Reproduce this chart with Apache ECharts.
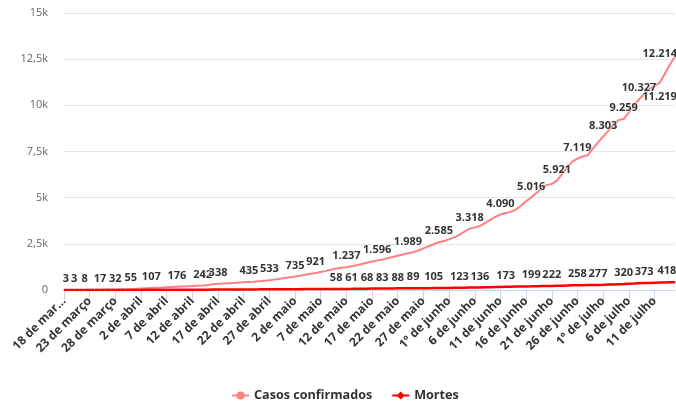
<!DOCTYPE html>
<html>
<head>
<meta charset="utf-8">
<script src="https://cdn.jsdelivr.net/npm/echarts@6/dist/echarts.min.js"></script>
<style>
  html, body { margin: 0; padding: 0; background: #fff; }
  #chart { width: 676px; height: 401px; }
</style>
</head>
<body>
<div id="chart"></div>
<script>
// eixo x: um ponto por dia, de 18 de março a 15 de julho
const months = [['março', 31], ['abril', 30], ['maio', 31], ['junho', 30], ['julho', 31]];
const categories = [];
let m = 0, d = 18;
for (let i = 0; i < 120; i++) {
  categories.push((d === 1 ? '1º' : d) + ' de ' + months[m][0]);
  d++;
  if (d > months[m][1]) { d = 1; m++; }
}

const casos = [
  3, 3, 3, 6, 8, 11, 14, 17, 22, 27,
  32, 39, 47, 55, 66, 80, 94, 107, 120, 133,
  148, 162, 176, 190, 203, 215, 229, 242, 270, 305,
  338, 352, 368, 385, 401, 418, 435, 452, 476, 505,
  533, 570, 612, 652, 694, 735, 770, 823, 875, 921,
  975, 1035, 1098, 1160, 1205, 1237, 1280, 1342, 1410, 1480,
  1545, 1596, 1650, 1715, 1790, 1860, 1925, 1989, 2045, 2140,
  2250, 2370, 2480, 2585, 2650, 2740, 2850, 2990, 3160, 3318,
  3390, 3470, 3620, 3800, 3960, 4090, 4170, 4230, 4350, 4560,
  4800, 5016, 5250, 5480, 5680, 5740, 5921, 6280, 6630, 6950,
  7119, 7230, 7290, 7650, 7990, 8303, 8620, 8950, 9200, 9259,
  9620, 9980, 10327, 10600, 10880, 11050, 11219, 11700, 12214, 12630
];

const mortes = [
  0, 0, 0, 0, 0, 0, 1, 1, 1, 2,
  2, 3, 3, 4, 5, 6, 7, 8, 9, 10,
  11, 12, 13, 14, 15, 16, 17, 18, 19, 21,
  22, 24, 25, 27, 28, 30, 31, 33, 34, 36,
  37, 39, 40, 42, 43, 45, 46, 48, 49, 51,
  53, 55, 56, 58, 59, 60, 61, 64, 66, 68,
  75, 80, 83, 85, 87, 88, 88, 89, 89, 92,
  96, 100, 105, 108, 112, 115, 119, 123, 127, 130,
  133, 136, 143, 150, 158, 165, 173, 178, 183, 188,
  194, 199, 205, 211, 216, 222, 229, 236, 244, 251,
  258, 262, 267, 272, 277, 285, 294, 302, 311, 320,
  333, 346, 360, 373, 382, 391, 400, 406, 418, 425
];

// dias com rótulo visível
const casosLabelDays = [0, 2, 4, 7, 10, 13, 17, 22, 27, 30, 36, 40, 45, 49, 55, 61, 67, 73, 79, 85, 91, 96, 100, 105, 109, 112, 116, 118];
const mortesLabelDays = [53, 56, 59, 62, 65, 68, 72, 77, 81, 86, 91, 95, 100, 104, 109, 113, 118];

const yTickLabels = ['0', '2,5k', '5k', '7,5k', '10k', '12,5k', '15k'];

const font = 'Open Sans';

function fmt(v) {
  return String(v).replace(/\B(?=(\d{3})+(?!\d))/g, '.');
}

// ajustes de rótulos junto das bordas
const casosTweaks = { 0: { offset: [2, 0] }, 116: { position: 'bottom', distance: 8 }, 118: { offset: [-10, 0] } };
const mortesTweaks = { 118: { offset: [-3, 0] } };

function buildData(values, labelDays, tweaks) {
  return values.map((v, i) => {
    const item = { value: v };
    if (labelDays.indexOf(i) >= 0) item.label = Object.assign({ show: true }, tweaks[i] || {});
    return item;
  });
}

const labelStyle = {
  show: false,
  position: 'top',
  distance: 5,
  fontFamily: font,
  fontSize: 11,
  fontWeight: 'bold',
  color: '#333',
  textBorderColor: '#fff',
  textBorderWidth: 1,
  formatter: p => fmt(p.value)
};

const chart = echarts.init(document.getElementById('chart'));
chart.setOption({
  animation: false,
  grid: { left: 64, right: 1, top: 13, bottom: 111, containLabel: false, outerBoundsMode: 'none' },
  legend: {
    top: 384,
    left: 226,
    itemWidth: 17,
    itemHeight: 10,
    itemGap: 19,
    textStyle: { fontFamily: font, fontSize: 12.6, fontWeight: 'bold', color: '#333' },
    data: ['Casos confirmados', 'Mortes']
  },
  xAxis: {
    type: 'category',
    boundaryGap: false,
    data: categories,
    axisLine: { lineStyle: { color: '#ccd6eb', width: 1 } },
    axisTick: { show: true, interval: 4, length: 10, lineStyle: { color: '#ccd6eb' } },
    axisLabel: {
      interval: 4,
      rotate: 45,
      margin: 9,
      fontFamily: font,
      fontSize: 12,
      fontWeight: 'bold',
      color: '#333',
      formatter: (v, i) => i === 0 ? '18 de mar…' : v
    },
    splitLine: { show: false }
  },
  yAxis: {
    type: 'value',
    min: 0,
    max: 15000,
    interval: 2500,
    axisLine: { show: false },
    axisTick: { show: false },
    axisLabel: {
      margin: 16,
      fontFamily: font,
      fontSize: 11,
      color: '#666',
      formatter: v => yTickLabels[Math.round(v / 2500)]
    },
    splitLine: { lineStyle: { color: '#e6e6e6', width: 1 } }
  },
  series: [
    {
      name: 'Casos confirmados',
      type: 'line',
      data: buildData(casos, casosLabelDays, casosTweaks),
      symbol: 'circle',
      symbolSize: 1,
      showSymbol: true,
      showAllSymbol: true,
      lineStyle: { color: '#ff8080', width: 2 },
      itemStyle: { color: '#ff8080' },
      label: labelStyle
    },
    {
      name: 'Mortes',
      type: 'line',
      data: buildData(mortes, mortesLabelDays, mortesTweaks),
      symbol: 'diamond',
      symbolSize: 1,
      showSymbol: true,
      showAllSymbol: true,
      lineStyle: { color: '#ff0000', width: 2.5 },
      itemStyle: { color: '#ff0000' },
      label: labelStyle
    }
  ]
});
</script>
</body>
</html>
